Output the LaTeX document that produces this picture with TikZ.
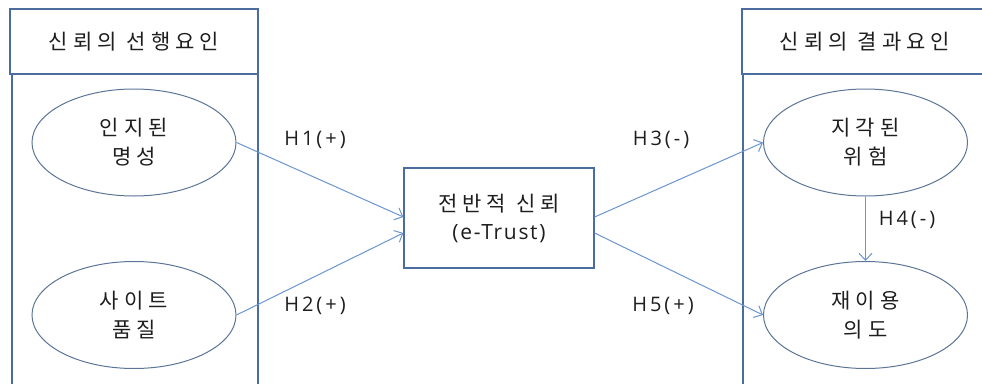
\documentclass[tikz,border=0pt]{standalone}
\usepackage{fontspec}
\setmainfont{Open Sans}[LetterSpace=15]
\newfontfamily\krfont{Noto Sans CJK KR}[LetterSpace=24]
\newfontfamily\latfont{Open Sans}[LetterSpace=15]
\newfontfamily\trustfont{Open Sans}[LetterSpace=8]
\usetikzlibrary{arrows.meta,shapes.geometric}
\definecolor{panelc}{HTML}{4A6C9E}
\definecolor{ellc}{HTML}{5C7596}
\definecolor{arrc}{HTML}{6B95CF}
\definecolor{txtc}{HTML}{1E1E1E}
\begin{document}
\begin{tikzpicture}[x=1pt,y=-1pt,
  every node/.style={text=txtc},
  hdr/.style={draw=panelc,line width=1.2pt,minimum width=248pt,minimum height=65pt,inner sep=0pt,font=\krfont\fontsize{21}{24}\selectfont},
  panelline/.style={draw=panelc,line width=1.2pt},
  factor/.style={ellipse,draw=ellc,line width=1pt,minimum width=204pt,minimum height=107pt,inner sep=0pt,align=center,font=\krfont\fontsize{21}{29}\selectfont},
  centerbox/.style={draw=panelc,line width=1.2pt,minimum width=190pt,minimum height=100pt,inner sep=0pt,align=center,font=\krfont\fontsize{21}{28}\selectfont},
  conn/.style={draw=arrc,line width=1pt,-{Straight Barb[length=7pt,width=13pt]}},
  hlabel/.style={font=\latfont\fontsize{20}{22}\selectfont,inner sep=0pt}
]
\useasboundingbox (0,0) rectangle (982,383);
\clip (0,0) rectangle (982,383);
% panels
\node[hdr] (lh) at (134,41.5) {신뢰의 선행요인};
\node[hdr] (rh) at (866,41.5) {};
\node (rht) at (865,41.5) [font=\krfont\fontsize{21}{24}\selectfont,inner sep=0pt] {신뢰의 결과요인};
\draw[panelline] (12,74) -- (12,390);
\draw[panelline] (258,74) -- (258,390);
\draw[panelline] (743,74) -- (743,390);
% factors
\node[factor] (e1) at (134,142.5) {인지된\\명성};
\node[factor] (e2) at (134,315) {사이트\\품질};
\node[factor] (e3) at (865.5,142.5) {지각된\\위험};
\node[factor] (e4) at (865.5,315) {재이용\\의도};
\node[centerbox] (box) at (499,218) {전반적 신뢰\\{\trustfont\fontsize{21}{28}\selectfont (e-Trust)}};
% connectors
\draw[conn] (e1.east) -- ([yshift=1pt]box.west);
\draw[conn] (e2.east) -- ([yshift=-15pt]box.west);
\draw[conn] ([yshift=1pt]box.east) -- (e3.west);
\draw[conn] ([yshift=-15pt]box.east) -- (e4.west);
\draw[conn] (e3.south) -- (e4.north);
% labels
\node[hlabel] (h1) at (315,140) {H1(+)};
\node[hlabel] (h2) at (315,306) {H2(+)};
\node[hlabel] (h3) at (661,140) {H3(-)};
\node[hlabel] (h5) at (663,306) {H5(+)};
\node[hlabel] (h4) at (907,220) {H4(-)};
\end{tikzpicture}
\end{document}
